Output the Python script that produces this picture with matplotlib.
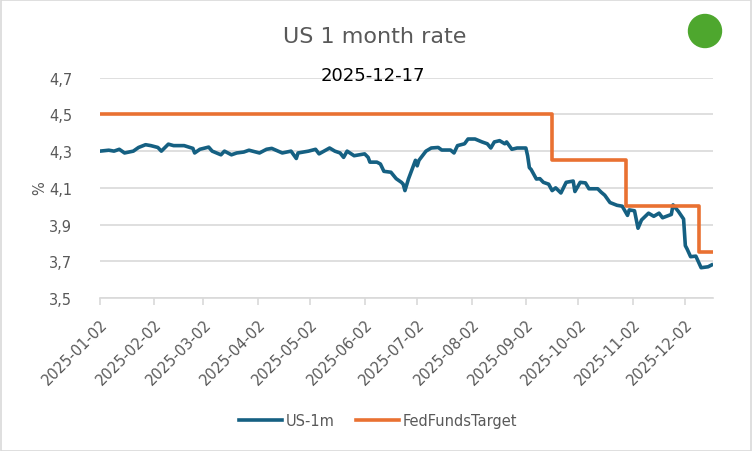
import matplotlib.pyplot as plt
import matplotlib.dates as mdates
import numpy as np
import pandas as pd
from matplotlib.patches import Circle, Rectangle
from matplotlib.ticker import FuncFormatter

plt.rcParams['font.family'] = ['DejaVu Sans']

# US 1 month rate
us1m_dates = [
    '2025-01-02', '2025-01-07', '2025-01-10', '2025-01-13', '2025-01-16', '2025-01-21',
    '2025-01-24', '2025-01-28', '2025-01-31', '2025-02-04', '2025-02-06', '2025-02-10',
    '2025-02-13', '2025-02-19', '2025-02-24', '2025-02-25', '2025-02-28', '2025-03-05',
    '2025-03-07', '2025-03-12', '2025-03-14', '2025-03-18', '2025-03-21', '2025-03-25',
    '2025-03-28', '2025-04-03', '2025-04-07', '2025-04-10', '2025-04-16', '2025-04-21',
    '2025-04-24', '2025-04-25', '2025-05-01', '2025-05-05', '2025-05-07', '2025-05-13',
    '2025-05-16', '2025-05-19', '2025-05-21', '2025-05-23', '2025-05-27', '2025-06-02',
    '2025-06-04', '2025-06-05', '2025-06-09', '2025-06-11', '2025-06-13', '2025-06-17',
    '2025-06-20', '2025-06-23', '2025-06-24', '2025-06-25', '2025-06-27', '2025-07-01',
    '2025-07-02', '2025-07-03', '2025-07-07', '2025-07-10', '2025-07-14', '2025-07-16',
    '2025-07-21', '2025-07-23', '2025-07-25', '2025-07-29', '2025-07-31', '2025-08-04',
    '2025-08-08', '2025-08-11', '2025-08-13', '2025-08-15', '2025-08-18', '2025-08-21',
    '2025-08-22', '2025-08-25', '2025-08-28', '2025-09-02', '2025-09-03', '2025-09-04',
    '2025-09-05', '2025-09-08', '2025-09-10', '2025-09-12', '2025-09-15', '2025-09-17',
    '2025-09-19', '2025-09-22', '2025-09-25', '2025-09-29', '2025-09-30', '2025-10-03',
    '2025-10-06', '2025-10-08', '2025-10-13', '2025-10-15', '2025-10-17', '2025-10-20',
    '2025-10-24', '2025-10-27', '2025-10-30', '2025-10-31', '2025-11-03', '2025-11-05',
    '2025-11-07', '2025-11-11', '2025-11-14', '2025-11-17', '2025-11-19', '2025-11-24',
    '2025-11-25', '2025-11-28', '2025-12-01', '2025-12-02', '2025-12-03', '2025-12-05',
    '2025-12-08', '2025-12-11', '2025-12-15', '2025-12-17',
]
us1m_values = [
    4.300, 4.305, 4.300, 4.310, 4.290, 4.300,
    4.320, 4.335, 4.330, 4.320, 4.300, 4.338,
    4.330, 4.330, 4.315, 4.290, 4.310, 4.322,
    4.300, 4.280, 4.300, 4.280, 4.290, 4.295,
    4.305, 4.290, 4.310, 4.315, 4.290, 4.300,
    4.260, 4.290, 4.300, 4.310, 4.285, 4.317,
    4.300, 4.290, 4.266, 4.300, 4.275, 4.285,
    4.266, 4.240, 4.240, 4.230, 4.190, 4.185,
    4.150, 4.130, 4.120, 4.085, 4.148, 4.250,
    4.220, 4.250, 4.300, 4.317, 4.320, 4.306,
    4.306, 4.290, 4.330, 4.340, 4.366, 4.366,
    4.350, 4.340, 4.317, 4.350, 4.357, 4.340,
    4.350, 4.310, 4.317, 4.317, 4.275, 4.210,
    4.200, 4.148, 4.150, 4.130, 4.120, 4.085,
    4.100, 4.072, 4.130, 4.137, 4.080, 4.130,
    4.127, 4.095, 4.095, 4.076, 4.060, 4.020,
    4.005, 4.000, 3.950, 3.980, 3.975, 3.880,
    3.925, 3.962, 3.945, 3.962, 3.937, 3.955,
    4.007, 3.972, 3.930, 3.785, 3.767, 3.725,
    3.728, 3.665, 3.670, 3.680,
]

# Fed funds target (upper bound), change dates
fed_dates = ['2025-01-02', '2025-09-17', '2025-10-29', '2025-12-10', '2025-12-17']
fed_values = [4.50, 4.25, 4.00, 3.75, 3.75]

tick_dates = ['2025-%02d-02' % m for m in range(1, 13)]
y_ticks = [3.5, 3.7, 3.9, 4.1, 4.3, 4.5, 4.7]

blue = '#156082'
orange = '#E97132'
grey = '#595959'
light = '#D9D9D9'

fig = plt.figure(figsize=(7.52, 4.52), dpi=100)
ax = fig.add_axes([0.133, 0.3385, 0.8147, 0.4874])

ax.plot(pd.to_datetime(us1m_dates), us1m_values, color=blue, lw=2.6,
        solid_joinstyle='round', label='US-1m')
ax.plot(pd.to_datetime(fed_dates), fed_values, color=orange, lw=2.6,
        drawstyle='steps-post', label='FedFundsTarget')

ax.set_ylim(3.5, 4.7)
ax.set_yticks(y_ticks)
ax.yaxis.set_major_formatter(FuncFormatter(lambda v, p: f'{v:.1f}'.replace('.', ',')))
ax.yaxis.grid(True, color=light, lw=1.2)
ax.set_axisbelow(True)

x0 = mdates.date2num(pd.Timestamp('2025-01-02'))
x1 = mdates.date2num(pd.Timestamp('2025-12-17'))
ax.set_xlim(x0, x1 + 0.6)
ax.set_xticks(pd.to_datetime(tick_dates))
ax.set_xticklabels(tick_dates, rotation=45, ha='right', va='top',
                   rotation_mode='anchor')

for s in ['top', 'right', 'left']:
    ax.spines[s].set_visible(False)
ax.spines['bottom'].set_color(light)
ax.spines['bottom'].set_linewidth(1.2)
ax.tick_params(axis='x', length=5, width=1.2, color=light, labelcolor=grey,
               labelsize=10.5, pad=8)
ax.tick_params(axis='y', length=0, labelcolor=grey, labelsize=10.5, pad=20)

fig.text(40 / 752, 1 - 188 / 452, '%', rotation=90, ha='center', va='center',
         color=grey, fontsize=10.5)
fig.text(375 / 752, 1 - 37 / 452, 'US 1 month rate', ha='center', va='center',
         color=grey, fontsize=16)
fig.text(373 / 752, 1 - 76 / 452, '2025-12-17', ha='center', va='center',
         color='black', fontsize=13)

fig.patches.append(Circle((705 / 100, (452 - 32) / 100), 0.165,
                          transform=fig.dpi_scale_trans, color='#4EA72E'))
fig.patches.append(Rectangle((0.001, 0.001), 0.998, 0.997, transform=fig.transFigure,
                             fill=False, edgecolor=light, lw=1.2))

fig.legend(loc='center', bbox_to_anchor=(378 / 752, 1 - 421.7 / 452), ncol=2,
           frameon=False, fontsize=10.5, handlelength=2.95, handletextpad=0.25,
           columnspacing=1.5, labelcolor=grey)

fig.savefig('out.png', dpi=100)
